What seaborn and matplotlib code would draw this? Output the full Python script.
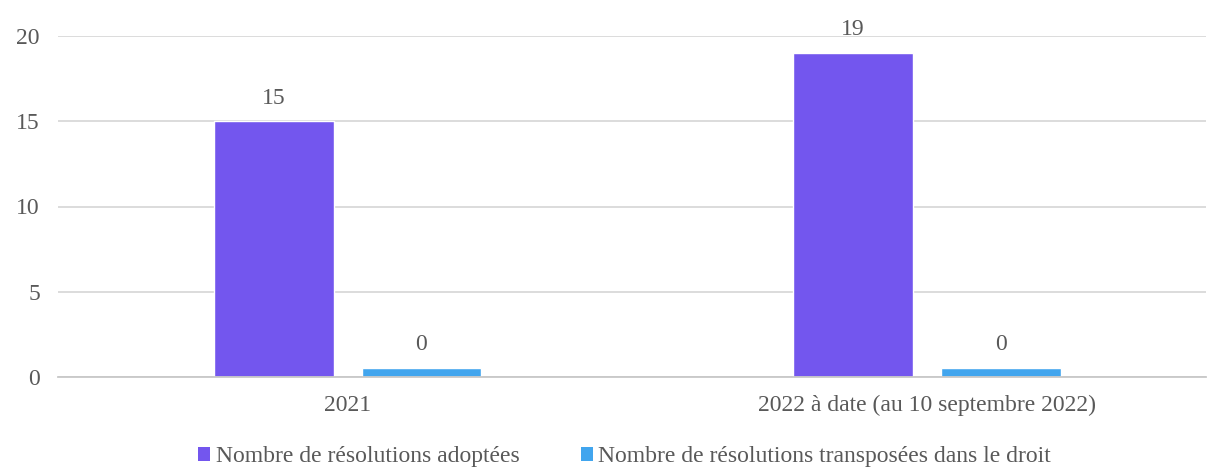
import pandas as pd
import numpy as np
import matplotlib
matplotlib.use('Agg')
import matplotlib.pyplot as plt
import seaborn as sns
from matplotlib.patches import Patch

# données
annees = ['2021', '2022 à date (au 10 septembre 2022)']
series = ['Nombre de résolutions adoptées', 'Nombre de résolutions transposées dans le droit']
adoptees = [15, 19]
transposees = [0, 0]
couleurs = ['#7356EE', '#41A5EE']

dados = pd.DataFrame({
    'annee': annees * 2,
    'serie': [series[0]] * 2 + [series[1]] * 2,
    'valeur': adoptees + transposees,
})
# les barres à 0 sont affichées avec une petite hauteur, comme dans l'original
dados['hauteur'] = np.maximum(dados['valeur'], 0.55)

sns.set_style('white')
plt.rcParams['font.family'] = ['Liberation Serif', 'DejaVu Serif']
gris = '#595959'
taille = 17

fig = plt.figure(figsize=(12.08, 4.72), dpi=100)
ax = fig.add_axes([0.048, 0.201, 0.950, 0.723])

sns.barplot(data=dados, x='annee', y='hauteur', hue='serie', palette=couleurs,
            width=0.51, gap=0.19, ax=ax, legend=False, saturation=1)

# étiquettes de valeurs
for cont, vals in zip(ax.containers, [adoptees, transposees]):
    ax.bar_label(cont, labels=[str(v) for v in vals], padding=9, fontsize=taille, color=gris)

ax.set_ylim(0, 20)
ax.set_xlim(-0.5, 1.481)
ax.set_yticks([0, 5, 10, 15, 20])
ax.yaxis.grid(True, color='#d9d9d9', linewidth=1.3)
ax.set_axisbelow(True)
for s in ['left', 'right', 'top']:
    ax.spines[s].set_visible(False)
ax.spines['bottom'].set_color('#c8c8c8')
ax.spines['bottom'].set_linewidth(1.3)
ax.tick_params(axis='y', length=0, pad=13, labelsize=taille, labelcolor=gris)
ax.tick_params(axis='x', length=0, pad=13, labelsize=taille, labelcolor=gris)
ax.set_xlabel('')
ax.set_ylabel('')

handles = [Patch(facecolor=c, edgecolor='none') for c in couleurs]
fig.legend(handles, series, loc='center', bbox_to_anchor=(0.517, 0.032), ncol=2,
           frameon=False, fontsize=taille, labelcolor=gris, handlelength=0.5,
           handleheight=0.5, handletextpad=0.25, columnspacing=2.6)

plt.savefig('out.png', dpi=100)
